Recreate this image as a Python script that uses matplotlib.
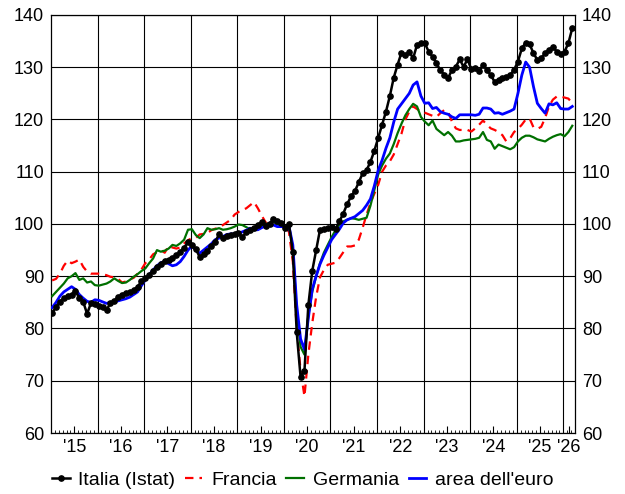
import numpy as np
import matplotlib
matplotlib.use("Agg")
import matplotlib.pyplot as plt

plt.rcParams['font.family'] = ['Liberation Sans', 'DejaVu Sans']

# monthly values, Jan 2015 - Mar 2026
italia = [83.0, 84.1, 85.1, 85.8, 86.2, 86.5, 87.2, 85.8, 85.1, 82.8, 84.9, 84.7,
          84.3, 84.1, 83.5, 84.9, 85.3, 86.0, 86.5, 86.8, 87.0, 87.3, 88.0, 89.0,
          89.6, 90.2, 91.0, 91.8, 92.4, 93.0, 93.2, 93.5, 94.0, 94.6, 95.5, 96.5,
          96.0, 95.2, 93.7, 94.3, 94.8, 95.8, 96.6, 98.0, 97.4, 97.7, 97.9, 98.0,
          98.3, 97.5, 98.4, 98.9, 99.3, 99.8, 100.4, 99.7, 100.0, 101.0, 100.6, 100.2,
          99.3, 100.0, 94.6, 79.3, 70.7, 71.9, 84.5, 91.0, 95.0, 98.9, 99.0, 99.2,
          99.5, 99.0, 100.5, 102.0, 103.8, 105.3, 106.3, 108.0, 109.7, 110.3, 111.9, 114.0,
          116.5, 119.0, 121.5, 124.5, 128.0, 130.5, 132.8, 132.3, 133.0, 131.7, 134.3, 134.6,
          134.6, 133.0, 132.0, 130.8, 129.4, 128.6, 127.9, 129.5, 130.1, 131.5, 130.1, 131.5,
          129.6, 129.8, 129.2, 130.4, 129.5, 128.5, 127.2, 127.6, 127.9, 128.2, 128.5, 129.5,
          131.1, 133.6, 134.7, 134.4, 132.7, 131.4, 131.7, 132.7, 133.3, 133.9, 133.0, 132.5,
          133.0, 134.6, 137.5]

francia = [89.2, 89.5, 90.5, 92.0, 93.0, 92.5, 92.8, 93.2, 91.8, 90.9, 90.5, 90.5,
           90.5, 90.4, 90.2, 89.9, 89.8, 89.5, 88.8, 89.0, 89.4, 89.7, 90.5, 91.3,
           92.5, 93.2, 94.2, 94.6, 95.0, 94.5, 95.8, 95.5, 95.3, 95.5, 96.3, 96.9,
           97.3, 97.3, 98.0, 98.1, 98.3, 98.8, 99.1, 99.3, 99.8, 100.3, 100.8, 101.8,
           102.3, 102.7, 103.0, 103.6, 104.2, 103.0, 101.6, 100.3, 100.0, 100.2, 100.2, 99.8,
           99.5, 98.5, 92.8, 80.0, 72.0, 67.0, 75.0, 81.0, 86.0, 89.8, 91.2, 92.2,
           92.4, 92.6, 93.5, 94.6, 95.7, 95.7, 95.9, 97.0, 99.3, 101.8, 104.0, 105.8,
           107.5, 110.0, 111.2, 112.0, 113.3, 115.3, 117.3, 120.0, 121.5, 122.5, 122.0, 121.6,
           121.3, 121.0, 120.7, 120.5, 121.2, 121.8, 121.5, 119.6, 118.3, 118.0, 118.0, 118.0,
           117.7, 118.3, 119.0, 119.8, 119.0, 118.3, 118.0, 117.6, 117.0, 115.8, 116.4, 117.6,
           118.2, 119.0, 120.0, 120.2, 118.5, 118.2, 118.6, 120.3, 122.5, 123.8, 124.4, 124.4,
           124.2, 124.0, 123.1]

germania = [86.2, 87.0, 87.8, 88.6, 89.6, 90.0, 90.6, 89.3, 89.6, 88.8, 89.0, 88.3,
            88.2, 88.4, 88.6, 89.0, 89.6, 89.1, 88.7, 88.8, 89.3, 89.9, 90.4, 91.0,
            91.5, 92.5, 93.4, 95.0, 94.7, 94.9, 95.3, 96.0, 95.8, 96.3, 97.0, 98.9,
            99.0, 97.9, 97.3, 98.0, 99.2, 98.9, 99.0, 99.2, 98.9, 99.0, 99.2, 99.5,
            99.9, 99.8, 99.4, 99.0, 98.8, 99.0, 99.5, 100.0, 100.2, 100.4, 100.0, 99.6,
            99.5, 99.6, 95.5, 83.0, 76.5, 75.0, 82.5, 87.0, 90.0, 92.5, 94.5, 96.0,
            97.5, 98.8, 99.8, 100.5, 100.8, 101.1, 101.0, 100.8, 101.0, 101.2, 103.5, 106.5,
            109.5, 111.2, 112.5, 113.5, 115.3, 117.4, 119.2, 120.8, 122.0, 123.0, 122.5, 120.5,
            119.6, 118.9, 119.8, 118.2, 117.6, 117.0, 117.6, 116.9, 115.8, 115.8, 116.0, 116.1,
            116.2, 116.3, 116.5, 117.6, 116.1, 115.8, 114.4, 115.2, 114.9, 114.6, 114.3, 114.7,
            115.8, 116.5, 116.9, 116.9, 116.6, 116.2, 116.0, 115.8, 116.3, 116.7, 117.0, 117.2,
            116.8, 117.6, 118.8]

euro = [84.0, 85.0, 86.2, 87.0, 87.5, 88.0, 87.5, 86.5, 85.8, 85.2, 85.0, 85.5,
        85.4, 85.1, 84.8, 85.0, 85.1, 85.3, 85.5, 85.7, 86.0, 86.5, 87.0, 88.2,
        89.3, 90.3, 91.2, 92.0, 92.6, 92.8, 92.4, 92.0, 92.2, 92.8, 93.8, 95.0,
        95.8, 95.0, 94.4, 95.0, 95.6, 96.2, 97.0, 97.3, 97.6, 98.0, 98.1, 98.1,
        98.2, 98.5, 98.8, 99.2, 98.9, 98.9, 99.3, 99.6, 100.2, 99.8, 99.5, 99.5,
        99.5, 99.6, 96.0, 84.5, 78.0, 76.0, 82.0, 87.5, 90.0, 92.3, 94.0, 95.5,
        97.0, 98.0, 99.0, 100.2, 100.8, 101.1, 101.4, 102.0, 102.6, 103.6, 104.8, 107.3,
        110.3, 112.2, 114.5, 116.5, 119.5, 122.0, 123.0, 124.0, 125.0, 126.6, 127.2, 124.5,
        123.1, 123.2, 122.1, 122.3, 121.5, 121.2, 121.0, 120.5, 120.2, 120.9, 120.9, 120.9,
        120.9, 120.8, 121.0, 122.2, 122.2, 122.0, 121.2, 121.3, 121.0, 121.3, 121.6, 122.0,
        125.0, 128.5, 131.0, 130.0, 126.3, 123.1, 122.1, 121.2, 123.0, 122.8, 123.2, 122.1,
        122.0, 122.0, 122.5]

years = list(range(2015, 2027))
year_labels = ["'" + str(y)[2:] for y in years]

t = 2015 + (np.arange(len(italia)) + 0.3) / 12

fig = plt.figure(figsize=(6.25, 4.94), dpi=100)
ax = fig.add_axes([51/625, 1 - 433/494, 524/625, 418/494])

ax.plot(t, francia, color='#ff0000', lw=1.6, dashes=(3.8, 2.7), label='Francia', zorder=3)
ax.plot(t, germania, color='#007000', lw=1.6, label='Germania', zorder=4)
ax.plot(t, euro, color='#0000ff', lw=2, label="area dell'euro", zorder=5)
ax.plot(t, italia, color='black', lw=1.8, marker='o', markersize=3.8,
        label='Italia (Istat)', zorder=6)

xmax = 2026.23
ax.set_xlim(2015, xmax)
ax.set_ylim(60, 140)

# year gridlines + horizontal grid
for y in years[1:]:
    ax.axvline(y, color='black', lw=0.8, zorder=1)
ax.set_yticks(range(60, 141, 10))
ax.yaxis.grid(True, color='black', lw=0.8, zorder=1)

# labels at mid year (visible part)
mids = [(y + min(y + 1, xmax)) / 2 for y in years]
ax.set_xticks(mids)
ax.set_xticklabels(year_labels)
ax.set_xticks(2015 + np.arange(0, 136) / 12, minor=True)
ax.tick_params(axis='x', which='major', direction='in', length=5, width=0.8,
               labelsize=13, pad=4)
ax.tick_params(axis='x', which='minor', direction='in', length=2.5, width=0.6)
ax.tick_params(axis='y', which='both', length=0, labelsize=13, pad=5,
               labelleft=True, labelright=True)
for s in ax.spines.values():
    s.set_linewidth(0.9)

h, l = ax.get_legend_handles_labels()
order = [3, 0, 1, 2]
fig.legend([h[i] for i in order], [l[i] for i in order], loc='center left',
           bbox_to_anchor=(52/625, 1 - 480/494), ncol=4, frameon=False,
           fontsize=14, handlelength=0.9, handletextpad=0.45, columnspacing=0.5,
           borderpad=0, borderaxespad=0)

fig.savefig('out.png', dpi=100)
